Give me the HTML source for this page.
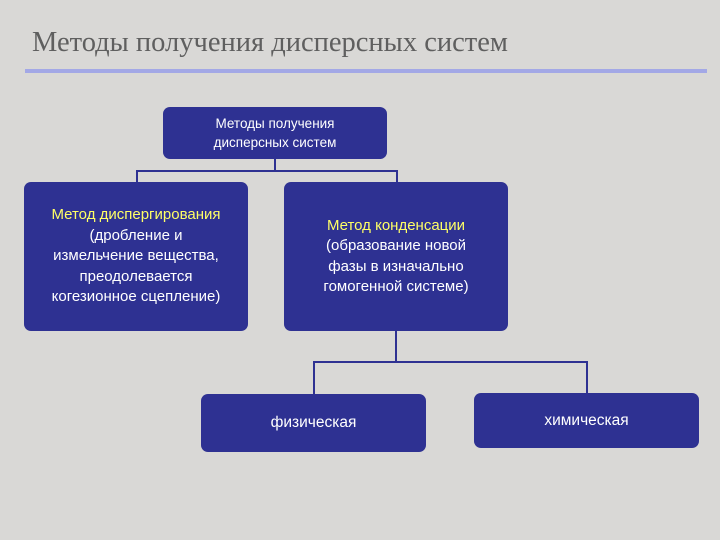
<!DOCTYPE html>
<html><head><meta charset="utf-8"><style>
body{margin:0;width:720px;height:540px;background:#d9d8d6;position:relative;overflow:hidden;font-family:"Liberation Sans",sans-serif}
.t{position:absolute;left:32px;top:27px;font-family:"Liberation Serif",serif;font-size:28.5px;color:#5f5f5f;white-space:nowrap}
.ln{position:absolute;left:25px;top:69px;width:682px;height:4px;background:#a3a8e6}
.b{position:absolute;background:#2e3192;border-radius:7px;color:#fff;display:flex;align-items:center;justify-content:center;text-align:center;box-sizing:border-box}
.y{color:#ffff66}
.c{position:absolute;background:#2e3192}
</style></head><body>
<div class="t">Методы получения дисперсных систем</div>
<div class="ln"></div>
<div class="c" style="left:274px;top:158px;width:2px;height:14px"></div>
<div class="c" style="left:136px;top:170px;width:262px;height:2px"></div>
<div class="c" style="left:136px;top:170px;width:2px;height:12px"></div>
<div class="c" style="left:396px;top:170px;width:2px;height:12px"></div>
<div class="c" style="left:395px;top:330px;width:2px;height:32px"></div>
<div class="c" style="left:313px;top:361px;width:275px;height:2px"></div>
<div class="c" style="left:313px;top:361px;width:2px;height:34px"></div>
<div class="c" style="left:586px;top:361px;width:2px;height:33px"></div>
<div class="b" style="left:163px;top:107px;width:224px;height:52px;font-size:13.5px;line-height:19px">Методы получения<br>дисперсных систем</div>
<div class="b" style="left:24px;top:182px;width:224px;height:149px;font-size:15px;line-height:20.5px"><div><span class="y">Метод диспергирования</span><br>(дробление и<br>измельчение вещества,<br>преодолевается<br>когезионное сцепление)</div></div>
<div class="b" style="left:284px;top:182px;width:224px;height:149px;font-size:15px;line-height:20.5px"><div><span class="y">Метод конденсации</span><br>(образование новой<br>фазы в изначально<br>гомогенной системе)</div></div>
<div class="b" style="left:201px;top:394px;width:225px;height:58px;font-size:15.5px">физическая</div>
<div class="b" style="left:474px;top:393px;width:225px;height:55px;font-size:15.5px">химическая</div>
</body></html>
